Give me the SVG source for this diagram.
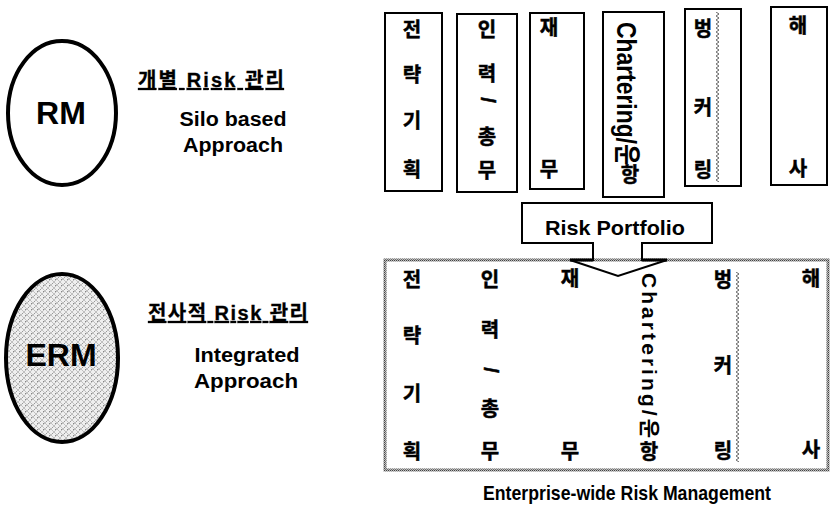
<svg xmlns="http://www.w3.org/2000/svg" width="832" height="515" viewBox="0 0 832 515">
<defs>
<style>
text{font-family:"Liberation Sans","Noto Sans CJK KR",sans-serif;font-weight:bold;fill:#000}
.k{font-size:20px;text-anchor:middle;stroke:#000;stroke-width:0.5}
.t{font-size:20px;text-anchor:middle}
.box{fill:#fff;stroke:#000;stroke-width:2}
</style>
<pattern id="hatch" width="6" height="6" patternUnits="userSpaceOnUse">
<rect width="6" height="6" fill="#efefef"/>
<path d="M0,0 L6,6 M6,0 L0,6" stroke="#b4b4b4" stroke-width="0.8"/>
<rect x="1" y="3" width="1" height="1" fill="#888"/>
<rect x="4" y="1" width="1" height="1" fill="#999"/>
</pattern>
<pattern id="grain" width="2" height="2" patternUnits="userSpaceOnUse">
<rect width="2" height="2" fill="#bdbdbd"/>
<rect width="1" height="1" fill="#444"/>
<rect x="1" y="1" width="1" height="1" fill="#6a6a6a"/>
</pattern>
<pattern id="zig" width="5" height="4" patternUnits="userSpaceOnUse">
<path d="M1,0 L4,2 L1,4" fill="none" stroke="#555" stroke-width="0.9"/>
</pattern>
</defs>
<rect width="832" height="515" fill="#fff"/>

<g id="rm">
<ellipse cx="62" cy="113" rx="54" ry="72" fill="#fff" stroke="#000" stroke-width="4"/>
<text x="61" y="124" font-size="32" text-anchor="middle">RM</text>
</g>
<g id="rm-label">
<text x="211" y="87" font-size="20" text-anchor="middle" text-decoration="underline" textLength="146" lengthAdjust="spacing" stroke="#000" stroke-width="0.3">개별 Risk 관리</text>
<text class="t" x="233" y="126" textLength="107" lengthAdjust="spacingAndGlyphs">Silo based</text>
<text class="t" x="233" y="152" textLength="100" lengthAdjust="spacingAndGlyphs">Approach</text>
</g>

<g id="erm">
<ellipse cx="62" cy="358" rx="56" ry="84" fill="url(#hatch)" stroke="#000" stroke-width="4"/>
<text x="61" y="366" font-size="32" text-anchor="middle">ERM</text>
</g>
<g id="erm-label">
<text x="228" y="320" font-size="20" text-anchor="middle" text-decoration="underline" textLength="160" lengthAdjust="spacing" stroke="#000" stroke-width="0.3">전사적 Risk 관리</text>
<text class="t" x="247" y="362" textLength="105" lengthAdjust="spacingAndGlyphs">Integrated</text>
<text class="t" x="246" y="388" textLength="104" lengthAdjust="spacingAndGlyphs">Approach</text>
</g>

<g id="silo-strategy">
<rect class="box" x="385" y="13" width="57" height="178"/>
<text class="k" x="412" y="37">전</text>
<text class="k" x="412" y="82">략</text>
<text class="k" x="412" y="128">기</text>
<text class="k" x="412" y="177">획</text>
</g>
<g id="silo-hr">
<rect class="box" x="457" y="14" width="60" height="178"/>
<text class="k" x="487" y="37">인</text>
<text class="k" x="487" y="81">력</text>
<text class="k" x="487" y="100" transform="rotate(90 487 100)" dy="6">/</text>
<text class="k" x="487" y="144">총</text>
<text class="k" x="487" y="178">무</text>
</g>
<g id="silo-finance">
<rect class="box" x="530" y="13" width="54" height="176"/>
<text class="k" x="549" y="35">재</text>
<text class="k" x="549" y="177">무</text>
</g>
<g id="silo-chartering">
<rect class="box" x="603" y="12" width="61" height="185"/>
<text x="617" y="22" font-size="27" transform="rotate(90 617 22)" textLength="143" lengthAdjust="spacingAndGlyphs">Chartering/운</text>
<text class="k" x="630" y="182" font-size="21">항</text>
</g>
<g id="silo-bunkering">
<rect class="box" x="685" y="9" width="56" height="177"/>
<rect x="716" y="12" width="5" height="170" fill="url(#zig)"/>
<text class="k" x="703" y="36">벙</text>
<text class="k" x="703" y="115">커</text>
<text class="k" x="703" y="177">링</text>
</g>
<g id="silo-shipping">
<rect class="box" x="771" y="7" width="56" height="178"/>
<text class="k" x="798" y="33">해</text>
<text class="k" x="798" y="176">사</text>
</g>

<g id="erm-box">
<rect x="385" y="260" width="443" height="210" fill="none" stroke="url(#grain)" stroke-width="3"/>
<text class="k" x="412" y="287">전</text>
<text class="k" x="412" y="343">략</text>
<text class="k" x="412" y="401">기</text>
<text class="k" x="412" y="459">획</text>
<text class="k" x="490" y="287">인</text>
<text class="k" x="490" y="337">력</text>
<text class="k" x="490" y="370" transform="rotate(90 490 370)" dy="6">/</text>
<text class="k" x="490" y="416">총</text>
<text class="k" x="490" y="459">무</text>
<text class="k" x="570" y="286">재</text>
<text class="k" x="570" y="459">무</text>
<text x="642" y="273" font-size="21" transform="rotate(90 642 273)" textLength="165" lengthAdjust="spacing">Chartering/운</text>
<text class="k" x="649" y="459">항</text>
<rect x="735" y="272" width="5" height="190" fill="url(#zig)"/>
<text class="k" x="723" y="287">벙</text>
<text class="k" x="723" y="373">커</text>
<text class="k" x="723" y="458">링</text>
<text class="k" x="811" y="286">해</text>
<text class="k" x="811" y="457">사</text>
</g>

<g id="connectors">
<path d="M522,203 H712 V243 H642 V260 H667 L618,276 L570,260 H593 V243 H522 Z" fill="none" stroke="#000" stroke-width="2"/>
<path d="M570,260 H593 M642,260 H667" stroke="#000" stroke-width="3"/>
</g>
<g id="risk-portfolio">
<text x="615" y="235" font-size="21" text-anchor="middle" textLength="140" lengthAdjust="spacingAndGlyphs">Risk Portfolio</text>
</g>

<g id="caption">
<text x="627" y="500" font-size="21" text-anchor="middle" textLength="288" lengthAdjust="spacingAndGlyphs">Enterprise-wide Risk Management</text>
</g>
</svg>
